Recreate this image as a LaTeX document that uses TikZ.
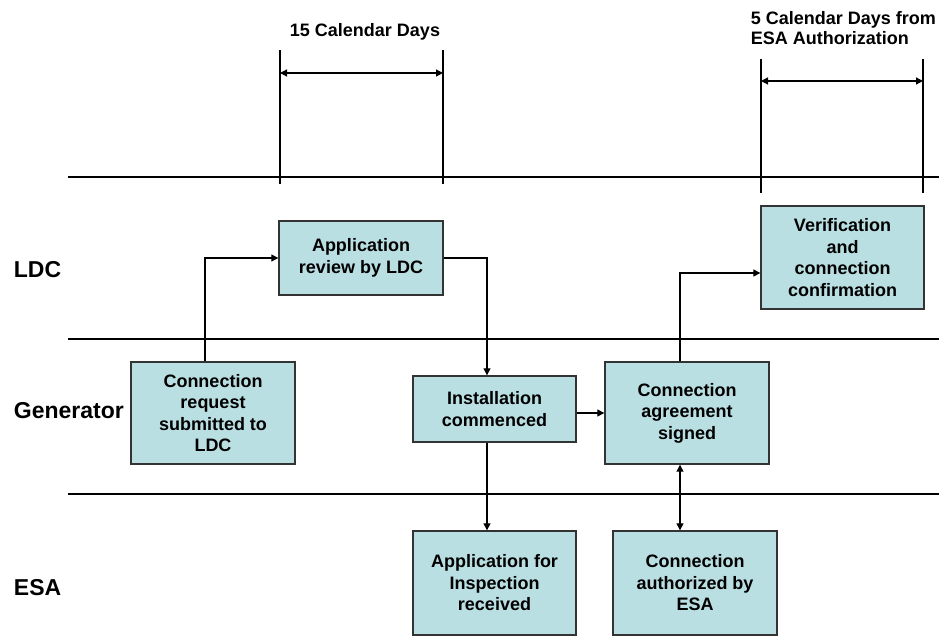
\documentclass[tikz,border=0pt]{standalone}
\usepackage{fontspec}
\setmainfont{Liberation Sans}
\usetikzlibrary{arrows.meta}
\definecolor{boxfill}{RGB}{186,223,227}
\definecolor{boxline}{RGB}{51,51,51}

\begin{document}
\begin{tikzpicture}[x=1pt,y=-1pt,line width=1.2pt,
  stepbox/.style={draw=boxline,fill=boxfill,line width=1.4pt,align=center,inner sep=0pt,
    minimum width=164pt,font=\bfseries\fontsize{18}{21.5}\selectfont},
  lane/.style={anchor=west,font=\bfseries\fontsize{23}{27}\selectfont},
  span/.style={align=left,font=\bfseries\fontsize{18}{20}\selectfont},
  arr/.style={-{Triangle[length=7pt,width=7pt]}},
  dbl/.style={{Triangle[length=7pt,width=7pt]}-{Triangle[length=7pt,width=7pt]}}]
\useasboundingbox (0,0) rectangle (939,637);
\foreach \y in {177,339,494} \draw (68,\y) -- (939,\y);
\node[lane] (ldc) at (10,270) {LDC};
\node[lane] (gen) at (10,411) {Generator};
\node[lane] (esa) at (10,588) {ESA};
\foreach \x in {280,443} \draw (\x,50) -- (\x,184);
\foreach \x in {761,923} \draw (\x,59) -- (\x,193);
\draw[dbl] (280,73) -- (443,73);
\draw[dbl] (761,81) -- (923,81);
\node[span] (fifteen) at (365,32) {15 Calendar Days};
\node[span,anchor=west] (five) at (747,28) {5 Calendar Days from\\ESA Authorization};
\node[stepbox,minimum height=102pt] (req) at (213,413) {Connection\\request\\submitted to\\LDC};
\node[stepbox,minimum height=74pt] (review) at (361,258) {Application\\review by LDC};
\node[stepbox,minimum width=163pt,minimum height=66pt] (install) at (494.5,409) {Installation\\commenced};
\node[stepbox,minimum height=102pt] (agree) at (687,413) {Connection\\agreement\\signed};
\node[stepbox,minimum width=163pt,minimum height=103pt] (verify) at (842.5,257.5) {Verification\\and\\connection\\confirmation};
\node[stepbox,minimum width=163pt,minimum height=104pt] (inspect) at (494.5,583) {Application for\\Inspection\\received};
\node[stepbox,minimum height=104pt] (auth) at (695,583) {Connection\\authorized by\\ESA};
\draw[arr] ([xshift=-8pt]req.north) |- (review.west);
\draw[arr] (review.east) -| ([xshift=-7.5pt]install.north);
\draw[arr] (install.east |- agree.west) -- (agree.west);
\draw[arr] ([xshift=-7.5pt]install.south) -- ([xshift=-7.5pt]install.south |- inspect.north);
\draw[arr] ([xshift=-7pt]agree.north) |- ([yshift=-15.5pt]verify.west);
\draw[dbl] ([xshift=-7pt]agree.south) -- ([xshift=-7pt]agree.south |- auth.north);
\end{tikzpicture}
\end{document}
